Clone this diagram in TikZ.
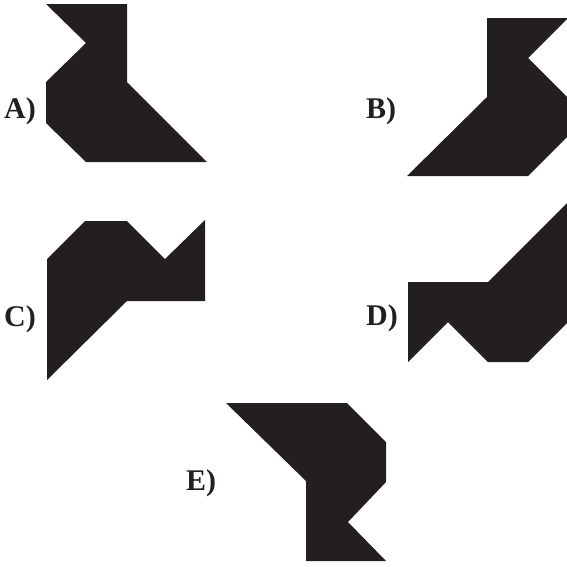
\documentclass[tikz,border=0pt]{standalone}
\usepackage{fontspec}
\setmainfont{Liberation Serif}
\definecolor{ink}{RGB}{35,31,32}
\begin{document}
\begin{tikzpicture}[x=1pt,y=-1pt,
  piece/.style={fill=ink,draw=none},
  lbl/.style={anchor=base west,inner sep=0pt,text=ink,font=\fontsize{30}{36}\selectfont\bfseries}]
\useasboundingbox (0,0) rectangle (567,566);
\clip (0,0) rectangle (567,566);
% A
\fill[piece] (46,4) -- (127,4) -- (127,82) -- (207,162) -- (86,162) -- (46,123) -- (46,82) -- (86,43) -- cycle;
% B
\fill[piece] (487,18) -- (568,18) -- (528,58) -- (568,98) -- (568,136) -- (528,176) -- (407,176) -- (487,97) -- cycle;
% C
\fill[piece] (47,259) -- (85,221) -- (127,221) -- (165,259) -- (205,220) -- (205,301) -- (127,301) -- (47,380) -- cycle;
% D
\fill[piece] (408,282) -- (488,282) -- (568,202) -- (568,322) -- (528,362) -- (488,362) -- (448,322) -- (408,362) -- cycle;
% E
\fill[piece] (226,403) -- (347,403) -- (386,442) -- (386,482) -- (348,522) -- (386,561) -- (306,561) -- (306,481) -- cycle;
% labels
\node[lbl] (la) at (4,118) {A)};
\node[lbl] (lb) at (366,118) {B)};
\node[lbl] (lc) at (4,326) {C)};
\node[lbl] (ld) at (366,325) {D)};
\node[lbl] (le) at (186,490) {E)};
\end{tikzpicture}
\end{document}
